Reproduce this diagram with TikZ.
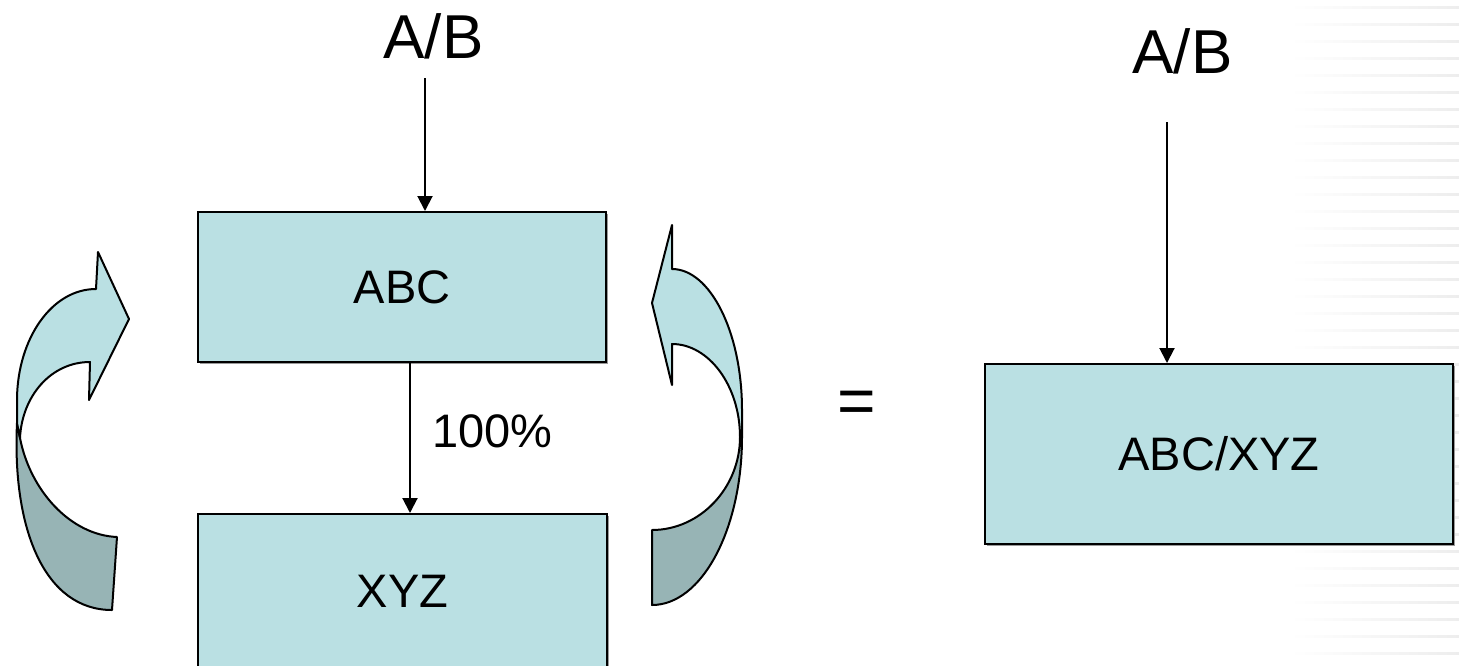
\documentclass[tikz,border=0pt]{standalone}
\usepackage{fontspec}
\setmainfont{Liberation Sans}
\usetikzlibrary{arrows.meta}
\definecolor{boxfill}{RGB}{186,224,227}
\definecolor{bandback}{RGB}{151,180,181}
\tikzset{
  box/.style={draw=black, line width=2pt, fill=boxfill, inner sep=0pt,
    font=\fontsize{47}{56}\selectfont},
  boxshadow/.style={fill=black!40},
  bigtext/.style={inner sep=0pt, anchor=base, font=\fontsize{62}{74}\selectfont},
  midtext/.style={inner sep=0pt, font=\fontsize{47}{56}\selectfont},
  arr/.style={draw=black, line width=2pt, -{Triangle[length=15pt,width=15pt]}},
  bandfront/.style={fill=boxfill, draw=black, line width=2pt, line join=round},
  bandrear/.style={fill=bandback, draw=black, line width=2pt, line join=round},
}
\begin{document}
\begin{tikzpicture}[x=1pt, y=-1pt]
\useasboundingbox (0,0) rectangle (1459,665);

% faint striped backdrop along the right edge
\foreach \yy in {6,23,...,665} {
  \shade[left color=white, right color=black!7] (1290,\yy) rectangle (1459,\yy+2.5);
}

% drop shadows of the boxes
\fill[boxshadow] (200,214) rectangle (608,364);
\fill[boxshadow] (200,516) rectangle (609,670);
\fill[boxshadow] (987,366) rectangle (1455,546);

% boxes
\node[box, minimum width=408pt, minimum height=150pt] (abc) at (402,287) {ABC};
\node[box, minimum width=409pt, minimum height=154pt] (xyz) at (402.5,591) {XYZ};
\node[box, minimum width=468pt, minimum height=180pt] (res) at (1219,454) {ABC/XYZ};

% inputs
\node[bigtext] (inL) at (433.5,58) {A/B};
\node[bigtext] (inR) at (1182.5,73) {A/B};
\coordinate (startL) at (425,78);
\coordinate (startR) at (1167,122);
\coordinate (mid) at (410,0);

\draw[arr] (startL) -- (startL |- abc.north);
\draw[arr] (startR) -- (startR |- res.north);
\draw[arr] (mid |- abc.south) -- (mid |- xyz.north);
\node[midtext, anchor=base west] (pct) at (432,447) {100\%};

\node[inner sep=0pt, anchor=base, font=\fontsize{66}{78}\selectfont] (eq) at (857,423) {=};

% left curved band arrow
\filldraw[bandrear] (17,423) .. controls (12,530) and (45,610) .. (112,610)
  -- (117,537) .. controls (70,535) and (30,490) .. (20,438) -- cycle;
\filldraw[bandfront] (96,289) -- (98,252) -- (129,319) -- (89,400) -- (90,362)
  .. controls (51,362) and (22,396) .. (20,438) -- (17,423) -- (17,398)
  .. controls (18,338) and (52,289) .. (96,289) -- cycle;

% right curved band arrow
\filldraw[bandrear] (740,437) .. controls (740,488) and (700,530) .. (652,530)
  -- (652,605) .. controls (702,605) and (742,529) .. (742,437) -- cycle;
\filldraw[bandfront] (672,269) -- (672,225) -- (652,303) -- (672,385) -- (672,344)
  .. controls (709,344) and (740,386) .. (740,437) -- (742,437) -- (742,410)
  .. controls (742,332) and (710,269) .. (672,269) -- cycle;
\end{tikzpicture}
\end{document}
